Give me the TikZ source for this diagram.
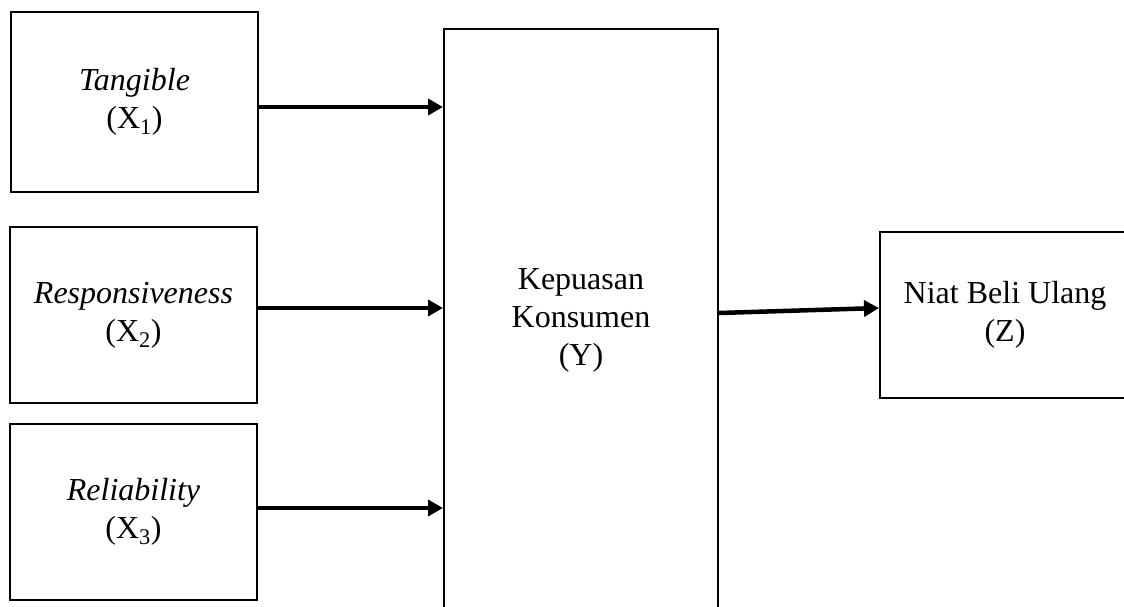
\documentclass[tikz,border=0pt]{standalone}
\usepackage{fontspec}
\setmainfont{Liberation Serif}
\usetikzlibrary{arrows.meta}
\begin{document}
\begin{tikzpicture}[x=1pt,y=-1pt,
  box/.style={draw=black,line width=2pt,rectangle,align=center,inner sep=0pt,
    font=\fontsize{32}{38}\selectfont},
  arr/.style={line width=4.5pt,-{Triangle[length=15pt,width=16pt]}}]
\useasboundingbox (0,0) rectangle (1124,606);
\node[box,minimum width=247pt,minimum height=180pt] (X1) at (134.5,102) {\textit{Tangible}\\(X\textsubscript{1})};
\node[box,minimum width=247pt,minimum height=176pt] (X2) at (133.5,315) {\textit{Responsiveness}\\(X\textsubscript{2})};
\node[box,minimum width=247pt,minimum height=176pt] (X3) at (133.5,512) {\textit{Reliability}\\(X\textsubscript{3})};
\node[box,minimum width=274pt,minimum height=583pt] (Y) at (581,320.5) {Kepuasan\\Konsumen\\(Y)};
\node[box,minimum width=250pt,minimum height=166pt] (Z) at (1005,315) {Niat Beli Ulang\\(Z)};
\draw[arr] ([yshift=-5pt]X1.east) coordinate (a1) -- (a1 -| Y.west);
\draw[arr] ([yshift=7pt]X2.east) coordinate (a2) -- (a2 -| Y.west);
\draw[arr] ([yshift=4pt]X3.east) coordinate (a3) -- (a3 -| Y.west);
\draw[arr] ([yshift=7.5pt]Y.east) -- ([yshift=7pt]Z.west);
\end{tikzpicture}
\end{document}
